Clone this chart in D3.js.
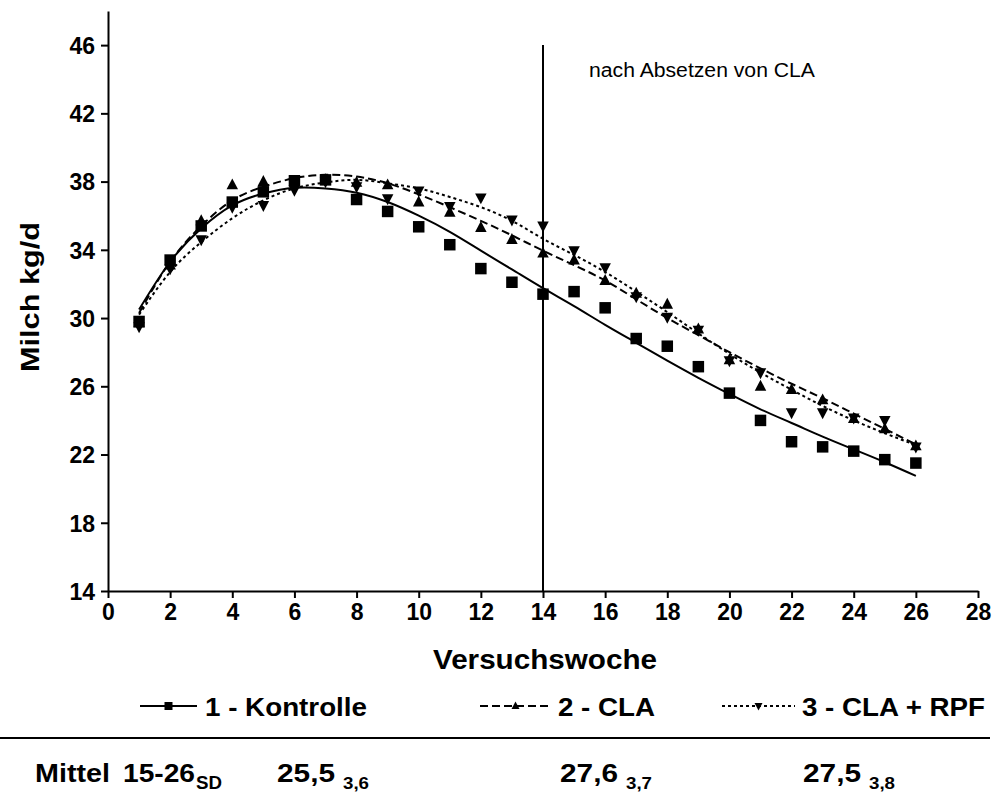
<!DOCTYPE html>
<html>
<head>
<meta charset="utf-8">
<script src="https://cdn.jsdelivr.net/npm/d3@7"></script>
<style>
  html, body { margin: 0; padding: 0; background: #fff; }
  svg { display: block; font-family: "Liberation Sans", Arial, sans-serif; }
</style>
</head>
<body>
<svg id="chart" width="999" height="812"></svg>
<script>
// Versuchswochen 1–26
const weeks = d3.range(1, 27);

// Gemessene Wochenmittel (kg Milch/Tag)
const kontrolle = [29.8, 33.4, 35.4, 36.8, 37.4, 38.05, 38.1, 36.95, 36.25, 35.35, 34.3, 32.9, 32.1,
                   31.4, 31.55, 30.6, 28.8, 28.35, 27.15, 25.6, 24.0, 22.75, 22.45, 22.2, 21.7, 21.5];
const cla       = [29.7, 33.1, 35.7, 37.8, 38.0, 38.0, 38.1, 37.95, 37.8, 36.8, 36.2, 35.3, 34.6,
                   33.8, 33.4, 32.2, 31.45, 30.8, 29.35, 27.55, 26.0, 25.8, 25.2, 24.1, 23.5, 22.5];
const claRpf    = [29.5, 32.9, 34.6, 36.5, 36.6, 37.5, 38.0, 37.7, 37.0, 37.45, 36.55, 37.05, 35.75,
                   35.4, 33.95, 32.95, 31.25, 30.05, 29.3, 27.5, 26.8, 24.45, 24.45, 24.15, 24.0, 22.45];

// Angepasste Laktationskurven je Gruppe
const kontrolleFit = [30.5, 33.3, 35.25, 36.6, 37.3, 37.64, 37.6, 37.35, 36.8, 36.0, 35.05, 33.95, 32.85,
                      31.75, 30.7, 29.6, 28.55, 27.5, 26.5, 25.55, 24.65, 23.85, 23.05, 22.3, 21.55, 20.75];
const claFit       = [30.3, 33.3, 35.4, 36.9, 37.7, 38.2, 38.4, 38.3, 37.9, 37.25, 36.5, 35.7, 34.85,
                      33.95, 33.1, 32.2, 31.1, 30.0, 29.0, 28.0, 27.05, 26.15, 25.3, 24.4, 23.5, 22.6];
const claRpfFit    = [30.2, 32.7, 34.45, 35.85, 36.9, 37.6, 37.95, 38.1, 37.9, 37.6, 37.1, 36.5, 35.7,
                      34.65, 33.7, 32.7, 31.55, 30.35, 29.1, 27.9, 26.8, 25.8, 24.85, 24.0, 23.25, 22.55];

const xTicks = d3.range(0, 29, 2);
const yTicks = [14, 18, 22, 26, 30, 34, 38, 42, 46];
const cutWeek = 14;

const seriesNames = ["1 - Kontrolle", "2 - CLA", "3 - CLA + RPF"];
const meanValues  = ["25,5", "27,6", "27,5"];
const sdValues    = ["3,6", "3,7", "3,8"];

const svg = d3.select("#chart");
svg.append("rect").attr("width", 999).attr("height", 812).attr("fill", "#fff");

const x = d3.scaleLinear().domain([0, 28]).range([108, 978]);
const y = d3.scaleLinear().domain([14, 48]).range([591, 11]);

const series = [
  { obs: kontrolle, fit: kontrolleFit, dash: null,  marker: "square" },
  { obs: cla,       fit: claFit,       dash: "8,4", marker: "up" },
  { obs: claRpf,    fit: claRpfFit,    dash: "3,3", marker: "down" }
];

function markerPath(kind, s) {
  if (kind === "square") return `M${-s/2},${-s/2}h${s}v${s}h${-s}Z`;
  const h = s * 0.95;
  if (kind === "up") return `M0,${-h*0.6}L${s/2},${h*0.4}L${-s/2},${h*0.4}Z`;
  return `M0,${h*0.6}L${s/2},${-h*0.4}L${-s/2},${-h*0.4}Z`;
}

// Bold label with a fixed drawn width
function label(xp, yp, str, size, width, anchor) {
  const t = svg.append("text").attr("x", xp).attr("y", yp)
    .attr("font-size", size).attr("font-weight", "bold").attr("fill", "#000")
    .attr("text-anchor", anchor || "start").text(str);
  if (width) t.attr("textLength", width).attr("lengthAdjust", "spacingAndGlyphs");
  return t;
}

// Achsen
const gx = svg.append("g").attr("transform", `translate(0,${y(14)})`)
  .call(d3.axisBottom(x).tickValues(xTicks).tickSize(7).tickSizeOuter(0).tickPadding(6));
const gy = svg.append("g").attr("transform", `translate(${x(0)},0)`)
  .call(d3.axisLeft(y).tickValues(yTicks).tickSize(7).tickSizeOuter(0).tickPadding(6));
[gx, gy].forEach(g => {
  g.select(".domain").attr("stroke", "#000").attr("stroke-width", 2);
  g.selectAll(".tick line").attr("stroke", "#000").attr("stroke-width", 2);
  g.selectAll(".tick text").attr("fill", "#000").attr("font-size", 23).attr("font-weight", "bold")
    .attr("font-family", "'Liberation Sans', Arial, sans-serif");
});
gy.selectAll(".tick text").attr("dy", "0.36em");

// Trennlinie: nach Absetzen von CLA
svg.append("line")
  .attr("x1", x(cutWeek)).attr("x2", x(cutWeek))
  .attr("y1", y(14)).attr("y2", y(46))
  .attr("stroke", "#000").attr("stroke-width", 2);
svg.append("text").attr("x", 589).attr("y", 77)
  .attr("font-size", 20).attr("fill", "#000")
  .attr("textLength", 226).attr("lengthAdjust", "spacingAndGlyphs")
  .text("nach Absetzen von CLA");

// Kurven und Messpunkte
const line = d3.line().x((d, i) => x(weeks[i])).y(d => y(d)).curve(d3.curveNatural);
series.forEach(s => {
  svg.append("path").attr("d", line(s.fit))
    .attr("fill", "none").attr("stroke", "#000").attr("stroke-width", 2)
    .attr("stroke-dasharray", s.dash);
});
series.forEach(s => {
  svg.append("g").selectAll("path").data(s.obs).join("path")
    .attr("transform", (d, i) => `translate(${x(weeks[i])},${y(d)})`)
    .attr("d", markerPath(s.marker, 11.5))
    .attr("fill", "#000");
});

// Achsentitel
label(433, 669, "Versuchswoche", 28, 224);
label(0, 0, "Milch kg/d", 26, 150, "middle").attr("transform", "translate(39,297) rotate(-90)");

// Legende
const legendY = 706;
const legend = [
  { x0: 140, x1: 197, tx: 205, w: 162 },
  { x0: 480, x1: 551, tx: 558, w: 97 },
  { x0: 722, x1: 795, tx: 802, w: 183 }
];
legend.forEach((l, i) => {
  const s = series[i];
  svg.append("line").attr("x1", l.x0).attr("x2", l.x1).attr("y1", legendY).attr("y2", legendY)
    .attr("stroke", "#000").attr("stroke-width", 2).attr("stroke-dasharray", s.dash);
  svg.append("path").attr("transform", `translate(${(l.x0 + l.x1) / 2},${legendY})`)
    .attr("d", markerPath(s.marker, 8)).attr("fill", "#000");
  label(l.tx, legendY + 10, seriesNames[i], 26, l.w);
});

svg.append("line").attr("x1", 0).attr("x2", 990).attr("y1", 738).attr("y2", 738)
  .attr("stroke", "#000").attr("stroke-width", 2);

// Mittelwerte Woche 15–26 mit Standardabweichung
const rowY = 782;
label(35, rowY, "Mittel", 25, 75);
label(123, rowY, "15-26", 25, 72);
label(196, rowY + 7, "SD", 19, 26);

const meanX = [277, 560, 803];
meanValues.forEach((v, i) => {
  label(meanX[i], rowY, v, 25, 58);
  label(meanX[i] + 66, rowY + 7, sdValues[i], 17, 26);
});
</script>
</body>
</html>
